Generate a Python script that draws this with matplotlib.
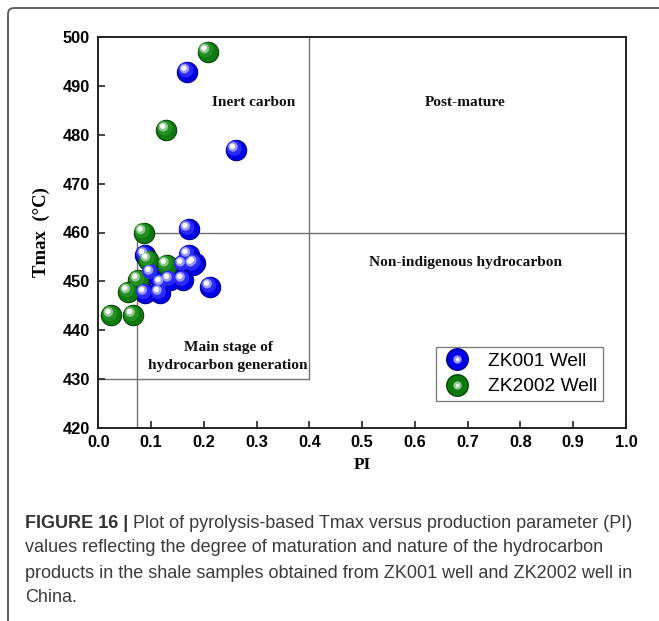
import matplotlib
matplotlib.use("Agg")
import matplotlib.pyplot as plt
from matplotlib.patches import FancyBboxPatch
from matplotlib.legend_handler import HandlerTuple
from matplotlib.lines import Line2D
import matplotlib.transforms as mtransforms

# ---------------- data ----------------
zk001_pi = [0.169, 0.261, 0.171, 0.089, 0.171, 0.183, 0.161, 0.180, 0.212,
            0.120, 0.117, 0.161, 0.089, 0.101, 0.136]
zk001_tmax = [492.9, 476.9, 460.7, 455.4, 455.4, 453.7, 453.4, 453.4, 448.9,
              449.6, 447.6, 450.3, 447.6, 451.7, 450.3]

zk2002_pi = [0.207, 0.129, 0.086, 0.095, 0.130, 0.076, 0.057, 0.025, 0.066]
zk2002_tmax = [497.0, 481.0, 460.0, 454.4, 453.4, 450.3, 447.9, 443.1, 443.1]

x_ticks = [0.0, 0.1, 0.2, 0.3, 0.4, 0.5, 0.6, 0.7, 0.8, 0.9, 1.0]
y_ticks = [420, 430, 440, 450, 460, 470, 480, 490, 500]

pi_split = 0.074     # vertical boundary (low PI)
pi_box = 0.4         # right edge of inert-carbon box
t_mature = 460       # horizontal boundary
t_low = 430          # bottom of main stage box

region_labels = ["Inert carbon", "Post-mature", "Non-indigenous hydrocarbon",
                 "Main stage of\nhydrocarbon generation"]
region_pos = [(0.295, 486.5), (0.696, 486.5), (0.696, 453.8), (0.246, 434.6)]

series_names = ["ZK001 Well", "ZK2002 Well"]
caption_bold = "FIGURE 16 |"
caption_lines = [
    "Plot of pyrolysis-based Tmax versus production parameter (PI)",
    "values reflecting the degree of maturation and nature of the hydrocarbon",
    "products in the shale samples obtained from ZK001 well and ZK2002 well in",
    "China.",
]

# ---------------- figure ----------------
W, H = 659, 621
fig = plt.figure(figsize=(W / 100, H / 100), dpi=100)
ax = fig.add_axes([98.3 / W, 1 - 428 / H, (626 - 98.3) / W, (428 - 37) / H])

ax.set_xlim(0, 1.0)
ax.set_ylim(420, 500)

# boundary lines
lc = "#707070"
ax.plot([pi_split, pi_split], [420, t_mature], color=lc, lw=1.0, zorder=1)
ax.plot([pi_split, 1.0], [t_mature, t_mature], color=lc, lw=1.0, zorder=1)
ax.plot([pi_box, pi_box], [t_low, 500], color=lc, lw=1.0, zorder=1)
ax.plot([0, pi_box], [t_low, t_low], color=lc, lw=1.0, zorder=1)

# sphere-like markers
S = 215


def sphere(x, y, base, edge, mid, light, label):
    ax.scatter(x, y, s=S, color=base, edgecolors=edge, linewidths=0.8,
               zorder=3, label=label)
    for k, (frac, col, dx, dy) in enumerate([(0.55, mid, -1.2, 1.2),
                                              (0.22, light, -2.2, 2.2),
                                              (0.07, "white", -2.6, 2.6)]):
        tr = mtransforms.offset_copy(ax.transData, fig=fig, x=dx, y=dy,
                                     units="points")
        ax.scatter(x, y, s=S * frac, color=col, edgecolors="none",
                   transform=tr, zorder=4 + k)


sphere(zk001_pi, zk001_tmax, "#0000e6", "#00008a", "#2a2aff", "#9a9aff",
       series_names[0])
sphere(zk2002_pi, zk2002_tmax, "#0d7a0d", "#064406", "#238f23", "#8fc88f",
       series_names[1])

# region labels
for txt, (px, py) in zip(region_labels, region_pos):
    ax.text(px, py, txt, ha="center", va="center", fontsize=11.1,
            fontweight="bold", family="Liberation Serif", color="#111111",
            linespacing=1.5)

# axes styling
for sp in ax.spines.values():
    sp.set_linewidth(1.4)
    sp.set_color("#222222")
ax.set_xticks(x_ticks)
ax.set_yticks(y_ticks)
ax.set_xticklabels([f"{v:.1f}" for v in x_ticks])
ax.set_yticklabels([str(v) for v in y_ticks])
ax.tick_params(direction="in", length=5, width=1.2, color="#222222",
               labelsize=11.8, pad=6)
for lab in ax.get_xticklabels() + ax.get_yticklabels():
    lab.set_fontweight("bold")
    lab.set_family("Liberation Sans")
ax.tick_params(axis="x", pad=5)

ax.set_xlabel("PI", fontsize=12.5, fontweight="bold", family="Liberation Serif",
              labelpad=5)
ax.set_ylabel("Tmax  (°C)", fontsize=13.5, fontweight="bold",
              family="Liberation Serif", labelpad=9)

# legend
h1 = (Line2D([], [], ls="none", marker="o", ms=15.5, mfc="#0000e6", mec="#00008a"),
      Line2D([], [], ls="none", marker="o", ms=6, mfc="#9a9aff", mec="none"),
      Line2D([], [], ls="none", marker="o", ms=2.5, mfc="white", mec="none"))
h2 = (Line2D([], [], ls="none", marker="o", ms=15.5, mfc="#0d7a0d", mec="#064406"),
      Line2D([], [], ls="none", marker="o", ms=6, mfc="#8fc88f", mec="none"),
      Line2D([], [], ls="none", marker="o", ms=2.5, mfc="white", mec="none"))
leg = ax.legend([h1, h2], series_names,
                handler_map={tuple: HandlerTuple(ndivide=1, pad=0)},
                loc="lower right", bbox_to_anchor=(0.956, 0.069),
                prop={"family": "Liberation Sans", "size": 13.8},
                frameon=True, fancybox=False, edgecolor="#555555",
                borderpad=0.3, handletextpad=0.8, labelspacing=0.4,
                handlelength=1.6, borderaxespad=0)
leg.get_frame().set_linewidth(0.9)

# outer frame (top and left visible, rest runs off the image)
frame = FancyBboxPatch((8, -30), 720, 643, boxstyle="round,pad=0,rounding_size=6",
                       transform=None, fill=False, edgecolor="#555555",
                       linewidth=1.3, figure=fig)
fig.patches.append(frame)

# caption
cap_fs = 13.0
y0 = 1 - 523 / H
dy = 25 / H
t = fig.text(25 / W, y0, caption_bold, fontsize=cap_fs, fontweight="bold",
             family="Liberation Sans", color="#333333", va="center")
fig.canvas.draw()
bb = t.get_window_extent()
fig.text((bb.x1 + 5) / W, y0, caption_lines[0], fontsize=cap_fs,
         family="Liberation Sans", color="#3a3a3a", va="center")
for i, line in enumerate(caption_lines[1:], start=1):
    fig.text(25 / W, y0 - i * dy, line, fontsize=cap_fs,
             family="Liberation Sans", color="#3a3a3a", va="center")

fig.savefig("out.png", dpi=100)
